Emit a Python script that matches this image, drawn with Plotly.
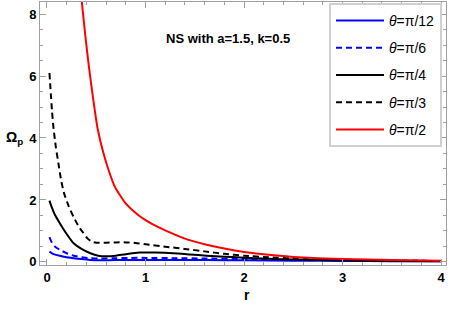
import plotly.graph_objects as go

# ---- data ----
r_pi12 = [0.025, 0.06, 0.13, 0.2, 0.27, 0.35, 0.44, 0.55, 0.7, 0.9, 1.2, 1.6, 2.0, 2.5, 3.0, 3.5, 4.0]
v_pi12 = [0.33, 0.26, 0.2, 0.15, 0.12, 0.09, 0.065, 0.055, 0.06, 0.065, 0.065, 0.06, 0.05, 0.04, 0.03, 0.025, 0.02]

r_pi6 = [0.025, 0.05, 0.08, 0.13, 0.2, 0.27, 0.35, 0.44, 0.55, 0.7, 0.85, 1.0, 1.3, 1.6, 2.0, 2.5, 3.0, 3.5, 4.0]
v_pi6 = [0.8, 0.62, 0.5, 0.39, 0.28, 0.2, 0.15, 0.12, 0.11, 0.12, 0.13, 0.13, 0.12, 0.11, 0.09, 0.07, 0.05, 0.04, 0.03]

r_pi4 = [0.025, 0.05, 0.08, 0.13, 0.2, 0.27, 0.35, 0.44, 0.52, 0.6, 0.7, 0.8, 0.94, 1.1, 1.28, 1.45, 1.62, 1.8, 1.96, 2.25, 2.5, 3.0, 3.5, 4.0]
v_pi4 = [1.98, 1.75, 1.52, 1.25, 0.9, 0.6, 0.42, 0.28, 0.2, 0.18, 0.2, 0.25, 0.3, 0.3, 0.28, 0.24, 0.2, 0.17, 0.14, 0.1, 0.08, 0.05, 0.03, 0.02]

r_pi3 = [0.025, 0.05, 0.065, 0.09, 0.115, 0.14, 0.17, 0.22, 0.27, 0.32, 0.37, 0.41, 0.45, 0.5, 0.6, 0.7, 0.8, 0.9, 1.0, 1.2, 1.4, 1.6, 1.8, 2.0, 2.25, 2.5, 3.0, 3.5, 4.0]
v_pi3 = [6.1, 4.9, 4.35, 3.7, 3.2, 2.7, 2.25, 1.8, 1.45, 1.15, 0.93, 0.76, 0.66, 0.62, 0.62, 0.63, 0.63, 0.61, 0.57, 0.49, 0.42, 0.34, 0.26, 0.2, 0.15, 0.11, 0.06, 0.04, 0.03]

r_pi2 = [0.32, 0.352, 0.386, 0.426, 0.47, 0.514, 0.572, 0.63, 0.69, 0.79, 0.9, 1.0, 1.13, 1.27, 1.4, 1.6, 1.8, 2.0, 2.25, 2.5, 3.0, 3.5, 4.0]
v_pi2 = [9.6, 8.45, 7.39, 6.29, 5.23, 4.3, 3.52, 2.92, 2.42, 1.92, 1.58, 1.35, 1.12, 0.92, 0.75, 0.57, 0.43, 0.32, 0.23, 0.16, 0.09, 0.06, 0.04]

names = ["<i>θ</i>=π/12", "<i>θ</i>=π/6", "<i>θ</i>=π/4", "<i>θ</i>=π/3", "<i>θ</i>=π/2"]
title_text = "NS with a=1.5, k=0.5"
x_ticks = [0, 1, 2, 3, 4]
y_ticks = [0, 2, 4, 6, 8]

series = [
    (r_pi12, v_pi12, "#0000ff", "solid"),
    (r_pi6, v_pi6, "#0000ff", "6px,4px"),
    (r_pi4, v_pi4, "#000000", "solid"),
    (r_pi3, v_pi3, "#000000", "6px,4px"),
    (r_pi2, v_pi2, "#ff0000", "solid"),
]

FONT = "Liberation Sans, Arial, sans-serif"

fig = go.Figure()
for i, (rx, vy, col, dash) in enumerate(series):
    fig.add_trace(go.Scatter(
        x=rx, y=vy, mode="lines", name=names[i], legendgroup=f"g{i}",
        line=dict(color=col, width=2, dash=dash, shape="spline", smoothing=0.5),
    ))

axis_common = dict(
    showgrid=False, zeroline=False, showline=True, linecolor="#a0a0a0", linewidth=1,
    mirror="ticks", ticks="inside", ticklen=6, tickcolor="#a0a0a0", tickwidth=1,
    tickfont=dict(family=FONT, size=13, color="black", weight="bold"),
)

fig.update_xaxes(range=[-0.071, 4.05], tickvals=x_ticks, ticktext=[str(t) for t in x_ticks],
                 minor=dict(dtick=0.2, ticks="inside", ticklen=3, tickcolor="#a0a0a0", tick0=0),
                 **axis_common)
fig.update_yaxes(range=[-0.1, 8.39], tickvals=y_ticks, ticktext=[str(t) for t in y_ticks],
                 minor=dict(dtick=0.5, ticks="inside", ticklen=3, tickcolor="#a0a0a0", tick0=0),
                 **axis_common)

W, H = 452, 316
L, R, T, B = 40, 6, 2, 51
pw, ph = W - L - R, H - T - B

def px(x, y):
    return (x - L) / pw, (H - B - y) / ph

ann = []
ax, ay = px(228, 29)
ann.append(dict(text=title_text, x=ax, y=ay, xref="paper", yref="paper", showarrow=False,
                font=dict(family=FONT, size=13, color="black", weight="bold")))
rx_, ry_ = px(247, 305)
ann.append(dict(text="r", x=rx_, y=ry_, xref="paper", yref="paper", showarrow=False,
                font=dict(family=FONT, size=14, color="black", weight="bold")))
ox, oy = px(4, 138)
ann.append(dict(text="Ω<sub>p</sub>", x=ox, y=oy, xref="paper", yref="paper", showarrow=False,
                xanchor="left",
                font=dict(family=FONT, size=14, color="black", weight="bold")))

lx, ly = px(329, 3)
fig.update_layout(
    width=W, height=H,
    margin=dict(l=L, r=R, t=T, b=B),
    plot_bgcolor="white", paper_bgcolor="white",
    legend=dict(
        x=lx, y=ly, xanchor="left", yanchor="top",
        bgcolor="white", bordercolor="#d0d0d0", borderwidth=2,
        font=dict(family=FONT, size=14, color="black"),
        tracegroupgap=6, itemwidth=48,
    ),
    annotations=ann,
)

fig.write_html("out.html", config={"displayModeBar": False},
               post_script="document.body.style.margin='0';")
